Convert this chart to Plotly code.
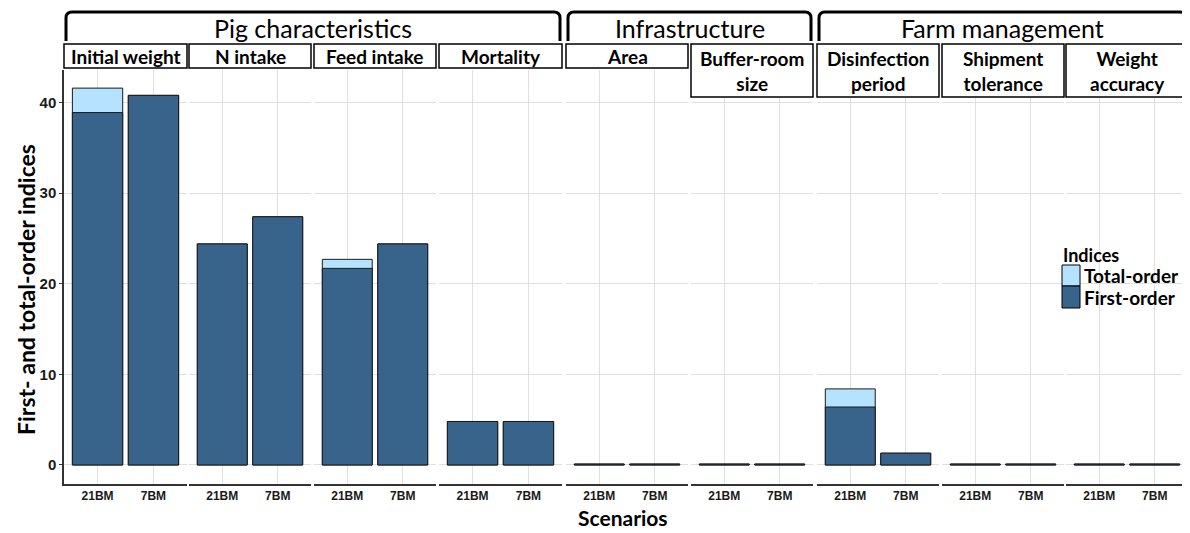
import plotly.graph_objects as go

# ---------------- data ----------------
panels = ["Initial weight", "N intake", "Feed intake", "Mortality", "Area",
          "Buffer-room<br>size", "Disinfection<br>period", "Shipment<br>tolerance", "Weight<br>accuracy"]
scenarios = ["21BM", "7BM"]
first_21BM = [38.9, 24.4, 21.7, 4.8, 0.1, 0.1, 6.4, 0.1, 0.1]
first_7BM = [40.8, 27.4, 24.4, 4.8, 0.1, 0.1, 1.3, 0.1, 0.1]
total_21BM = [41.6, 24.4, 22.7, 4.8, 0.1, 0.1, 8.4, 0.1, 0.1]
total_7BM = [40.8, 27.4, 24.4, 4.8, 0.1, 0.1, 1.3, 0.1, 0.1]
groups = ["Pig characteristics", "Infrastructure", "Farm management"]
group_members = [[0, 1, 2, 3], [4, 5], [6, 7, 8]]
legend_names = ["Total-order", "First-order"]
y_ticks = [0, 10, 20, 30, 40]

# ---------------- layout geometry ----------------
# The page body adds an 8px offset; all coordinates below are screen pixels.
OFF = 8
W, H = 1190 - OFF, 533 - OFF
ML, MR, MT, MB = 56, 2, 62, 49
PW = W - ML - MR
PH = H - MT - MB
panel_px = [(64, 187), (189, 311), (314, 436), (439, 562), (566, 688),
            (691, 813), (817, 939), (942, 1064), (1066, 1188)]
strip_bottom = [68, 68, 68, 68, 68, 97, 97, 97, 97]


def px(x):
    return (x - OFF - ML) / PW


def py(y):
    return (H - MB - (y - OFF)) / PH


C_FIRST = "#38638A"
C_TOTAL = "#B5E3FF"
LINE = "#1a1a1a"
FONT = "Lato"
TICKFONT = "Liberation Sans"

fig = go.Figure()
for i, name in enumerate(panels):
    xa = "x" if i == 0 else f"x{i+1}"
    fig.add_trace(go.Bar(
        x=scenarios, y=[total_21BM[i], total_7BM[i]], xaxis=xa, yaxis="y",
        name=legend_names[0], showlegend=False,
        marker=dict(color=C_TOTAL, line=dict(color=LINE, width=1)), width=0.9))
    fig.add_trace(go.Bar(
        x=scenarios, y=[first_21BM[i], first_7BM[i]], xaxis=xa, yaxis="y",
        name=legend_names[1], showlegend=False,
        marker=dict(color=C_FIRST, line=dict(color=LINE, width=1)), width=0.9))

layout = dict(
    width=W, height=H, margin=dict(l=ML, r=MR, t=MT, b=MB),
    paper_bgcolor="white", plot_bgcolor="white", barmode="overlay",
    showlegend=False,
    yaxis=dict(range=[-2.1, 43.6], tickvals=y_ticks, showgrid=True, gridcolor="#e0e0e0",
               gridwidth=1, zeroline=False, showline=True, linecolor="#333", linewidth=1.5,
               ticks="outside", ticklen=3, tickcolor="#333",
               tickfont=dict(family=TICKFONT, size=15, color="#1a1a1a", weight="bold"), anchor="x"),
)
for i, (a, b) in enumerate(panel_px):
    key = "xaxis" if i == 0 else f"xaxis{i+1}"
    layout[key] = dict(domain=[px(a), px(b)], anchor="y", type="category",
                       categoryorder="array", categoryarray=scenarios,
                       range=[-0.6, 1.6], showgrid=True, gridcolor="#e0e0e0", gridwidth=1,
                       zeroline=False, showline=True, linecolor="#333", linewidth=1.5,
                       ticks="", tickfont=dict(family=TICKFONT, size=12, color="#1a1a1a", weight="bold"))
fig.update_layout(**layout)

shapes = []
annotations = []
# strips
for i, (a, b) in enumerate(panel_px):
    shapes.append(dict(type="rect", xref="paper", yref="paper", layer="above",
                       x0=px(a), x1=px(b), y0=py(strip_bottom[i]), y1=py(44),
                       fillcolor="white", line=dict(color="black", width=1.5)))
    annotations.append(dict(xref="paper", yref="paper", x=px((a + b) / 2),
                            y=py((44 + strip_bottom[i]) / 2), text=f"<b>{panels[i]}</b>",
                            showarrow=False, xanchor="center", yanchor="middle",
                            font=dict(family=FONT, size=19, color="black")))
# group brackets
for g, members in zip(groups, group_members):
    a = panel_px[members[0]][0] + 2
    b = panel_px[members[-1]][1] - 2
    yt, yb = 12, 41
    path = (f"M {px(a)},{py(yb)} L {px(a)},{py(yt+6)} Q {px(a)},{py(yt)} {px(a+6)},{py(yt)} "
            f"L {px(b-6)},{py(yt)} Q {px(b)},{py(yt)} {px(b)},{py(yt+6)} L {px(b)},{py(yb)}")
    shapes.append(dict(type="path", xref="paper", yref="paper", path=path,
                       line=dict(color="black", width=3)))
    annotations.append(dict(xref="paper", yref="paper", x=px((a + b) / 2), y=py(28),
                            text=g, showarrow=False, xanchor="center", yanchor="middle",
                            font=dict(family=FONT, size=25, color="black")))
# legend (drawn manually to match the key size)
leg_colors = [C_TOTAL, C_FIRST]
leg_rows = [(265, 286), (286, 308)]
annotations.append(dict(xref="paper", yref="paper", x=px(1061), y=py(255), text="<b>Indices</b>",
                        showarrow=False, xanchor="left", yanchor="middle",
                        font=dict(family=FONT, size=18, color="black")))
for nm, col, (t, bt) in zip(legend_names, leg_colors, leg_rows):
    shapes.append(dict(type="rect", xref="paper", yref="paper", x0=px(1062), x1=px(1080),
                       y0=py(bt), y1=py(t), fillcolor=col, line=dict(color="black", width=1)))
    annotations.append(dict(xref="paper", yref="paper", x=px(1082), y=py((t + bt) / 2),
                            text=f"<b>{nm}</b>", showarrow=False, xanchor="left", yanchor="middle",
                            font=dict(family=FONT, size=19, color="black")))
# axis titles
annotations.append(dict(xref="paper", yref="paper", x=px(623), y=py(518), text="<b>Scenarios</b>",
                        showarrow=False, xanchor="center", yanchor="middle",
                        font=dict(family=FONT, size=21, color="black")))
annotations.append(dict(xref="paper", yref="paper", x=px(26), y=py(290),
                        text="<b>First- and total-order indices</b>", textangle=-90,
                        showarrow=False, xanchor="center", yanchor="middle",
                        font=dict(family=FONT, size=23, color="black")))
fig.update_layout(shapes=shapes, annotations=annotations)

fig.write_html("out.html")
